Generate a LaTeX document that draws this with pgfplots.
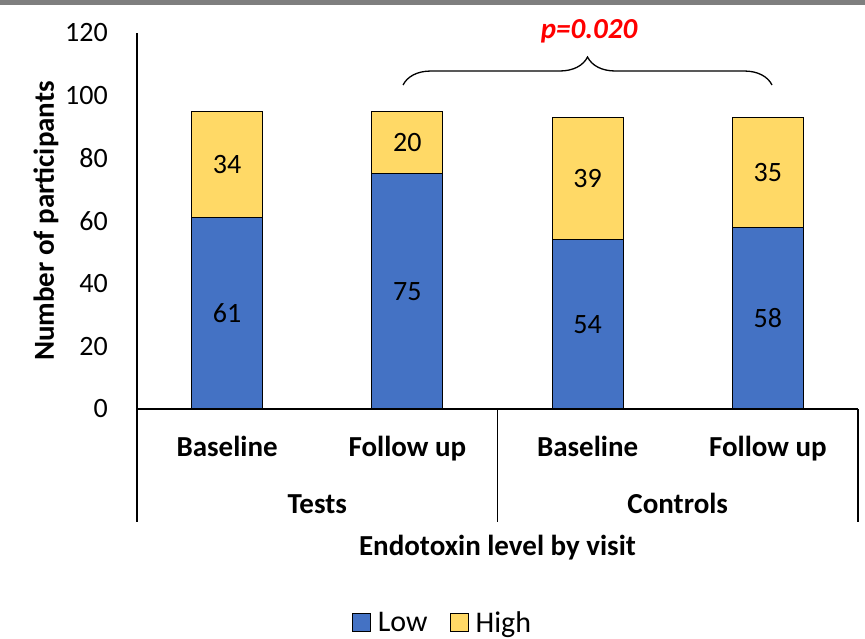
\documentclass[border=0pt]{standalone}
\usepackage{fontspec}
\setmainfont{Carlito}
\usepackage{pgfplots}
\pgfplotsset{compat=1.18}
\usetikzlibrary{decorations.pathreplacing}
\definecolor{lowc}{HTML}{4472C4}
\definecolor{highc}{HTML}{FFD966}
\definecolor{topgrey}{HTML}{7F7F7F}
\newcommand\fsreg{\fontsize{28}{33}\selectfont}
\newcommand\fsleg{\fontsize{30}{35}\selectfont}
\newcommand\fsbold{\fontsize{29}{34}\selectfont\bfseries}
\begin{document}
\begin{tikzpicture}
\useasboundingbox (-137pt,-230pt) rectangle (728pt,409pt);
\fill[topgrey] (-137pt,404pt) rectangle (728pt,409pt);
\begin{axis}[
  at={(0,0)}, anchor=south west,
  scale only axis, width=721pt, height=376pt,
  xmin=0, xmax=4, ymin=0, ymax=120,
  ybar stacked, bar width=71pt,
  axis x line=bottom, axis y line=left,
  axis line style={line width=1.3pt, -},
  ytick={0,20,...,120},
  xtick={0.5,1.5,2.5,3.5},
  xticklabels={Baseline,Follow up,Baseline,Follow up},
  major tick length=0pt,
  yticklabel style={font=\fsreg, anchor=east, inner sep=0pt, xshift=-29pt, /pgf/number format/assume math mode=true},
  xticklabel style={font=\fsbold, anchor=base, inner sep=0pt, yshift=-48pt},
  xlabel={Endotoxin level by visit},
  xlabel style={font=\fsbold, at={(axis description cs:0.5,0)}, anchor=base, inner sep=0pt, yshift=-146pt},
  clip=false,
  legend columns=2,
  legend image code/.code={\draw[#1,draw=black,line width=1pt] (0pt,-9pt) rectangle (18pt,9pt);},
  legend style={at={(axis description cs:0.425,-0.569)}, anchor=center, draw=none, fill=none, font=\fsleg, inner sep=0pt, nodes={inner sep=4pt}, /tikz/every odd column/.append style={column sep=3pt}, /tikz/every even column/.append style={column sep=18pt}},
]
\addplot[fill=lowc, draw=black, line width=1pt] coordinates {(0.5,61) (1.5,75) (2.5,54) (3.5,58)};
\addplot[fill=highc, draw=black, line width=1pt] coordinates {(0.5,34) (1.5,20) (2.5,39) (3.5,35)};
\legend{Low, High}
% label positions (segment centres)
\coordinate (a1) at (axis cs:0.5,30.5);
\coordinate (a2) at (axis cs:1.5,37.5);
\coordinate (a3) at (axis cs:2.5,27);
\coordinate (a4) at (axis cs:3.5,29);
\coordinate (b1) at (axis cs:0.5,78);
\coordinate (b2) at (axis cs:1.5,85);
\coordinate (b3) at (axis cs:2.5,73.5);
\coordinate (b4) at (axis cs:3.5,75.5);
% group separators
\draw[line width=1.3pt] (axis cs:0,0) -- ++(0,-113pt);
\draw[line width=1.3pt] (axis cs:2,0) -- ++(0,-113pt);
\draw[line width=1.3pt] (axis cs:4,0) -- ++(0,-113pt);
\node[font=\fsbold, anchor=base, inner sep=0pt] at ([yshift=-104pt]axis cs:1,0) {Tests};
\node[font=\fsbold, anchor=base, inner sep=0pt] at ([yshift=-104pt]axis cs:3,0) {Controls};
% y label
\node[font=\fsbold, rotate=90, anchor=base, inner sep=0pt] at ([xshift=-83pt]axis cs:0,60) {Number of participants};
% brace and p value
\draw[line width=1.3pt, decorate, decoration={brace, amplitude=28pt}] (axis cs:1.476,103.4) -- (axis cs:3.523,103.4);
\node[font=\fsbold\itshape, text=red] at (axis cs:2.508,120.5) {p=0.020};
\end{axis}
\node[font=\fsreg] at (a1) {61};
\node[font=\fsreg] at (a2) {75};
\node[font=\fsreg] at (a3) {54};
\node[font=\fsreg] at (a4) {58};
\node[font=\fsreg] at (b1) {34};
\node[font=\fsreg] at (b2) {20};
\node[font=\fsreg] at (b3) {39};
\node[font=\fsreg] at (b4) {35};
\end{tikzpicture}
\end{document}
